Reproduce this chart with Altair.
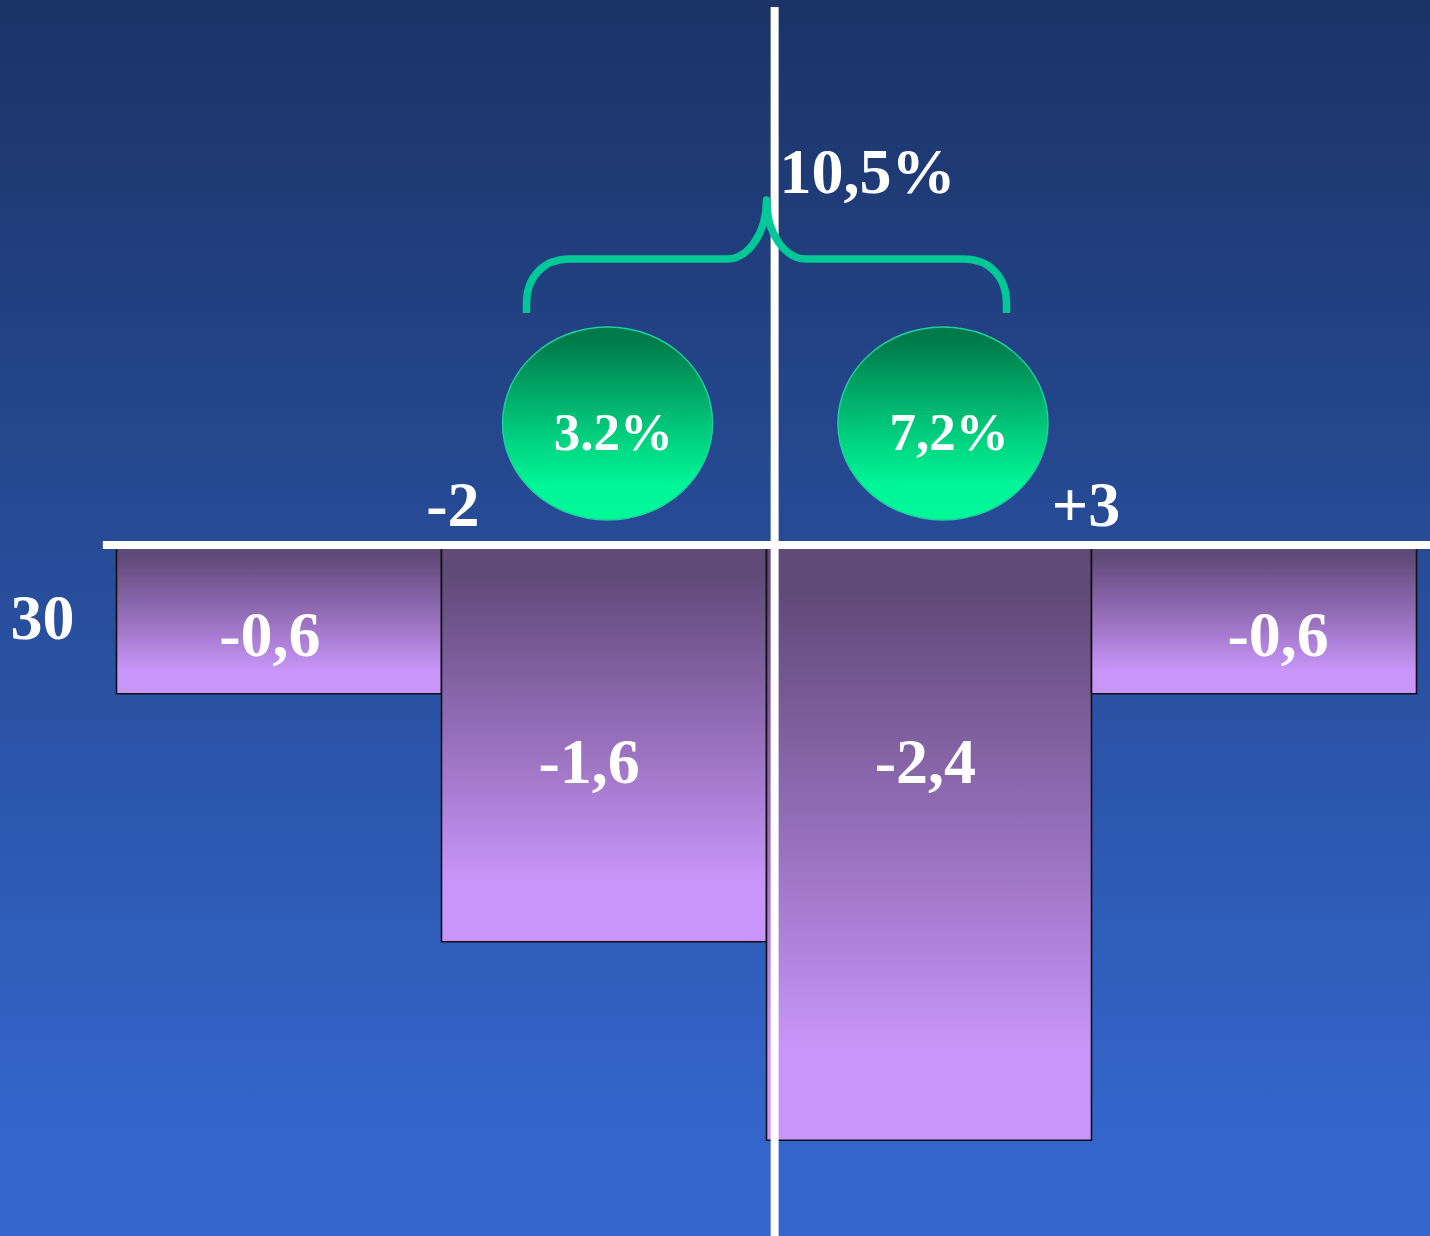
import altair as alt
import pandas as pd

# ---- data -------------------------------------------------------------
bar_values = [-0.6, -1.6, -2.4, -0.6]          # change per segment
bar_starts = [0, 1, 2, 3]                       # segment index
circle_labels = ["3.2%", "7,2%"]               # shares shown in the bubbles
total_label = "10,5%"                           # sum shown above the brace
edge_labels = ["-2", "+3"]                      # markers on the zero line
row_label = "30"

# ---- layout (data units of the shared x / y scales) --------------------
X_DOMAIN = [-116.5 / 325, (1430 - 116.5) / 325]
Y_DOMAIN = [-(1236 - 545) / 248, 545 / 248]
bar_label_x = [0.472, 1.454, 2.489, 3.574]
bar_label_y = [-0.448, -0.96, -0.96, -0.448]
circle_x = [1.511, 2.543]
circle_y = 0.49
circle_text_x = [1.529, 2.562]
circle_text_y = 0.383
edge_label_x = [1.035, 2.983]
edge_label_y = 0.075
row_label_pos = (-0.228, -0.379)
total_pos = (2.311, 1.419)
brace_pos = (2.0, 1.153)
axis_v_x = 2.025
axis_v_top = 2.169
axis_h_left = -0.042

W, H = 1430, 1236
FONT = "Liberation Serif"

xs = alt.Scale(domain=X_DOMAIN, nice=False, zero=False)
ys = alt.Scale(domain=Y_DOMAIN, nice=False, zero=False)


def vgrad(stops):
    return alt.Gradient(
        gradient="linear",
        stops=[alt.GradientStop(color=c, offset=o) for o, c in stops],
        x1=0, x2=0, y1=0, y2=1,
    )


one = pd.DataFrame({"k": [0]})

# background wash
background = alt.Chart(one).mark_rect(
    fill=vgrad([(0, "#1b3366"), (0.92, "#3366cc"), (1, "#3366cc")])
).encode(x=alt.value(0), x2=alt.value(W), y=alt.value(0), y2=alt.value(H))

# bars hanging below zero
bars_df = pd.DataFrame({
    "start": bar_starts,
    "end": [s + 1 for s in bar_starts],
    "value": bar_values,
})
bars = alt.Chart(bars_df).mark_bar(
    fill=vgrad([(0, "#5f4a78"), (0.08, "#604a79"), (0.52, "#9b72c0"),
                (0.85, "#c896fa"), (1, "#c896fa")]),
    stroke="#111111",
    strokeWidth=1.6,
).encode(
    x=alt.X("start:Q", scale=xs, axis=None),
    x2="end:Q",
    y=alt.Y("value:Q", scale=ys, axis=None),
    y2=alt.datum(0),
)

# bar value labels, written with a decimal comma
bl_df = pd.DataFrame({
    "x": bar_label_x,
    "y": bar_label_y,
    "t": [f"{v:.1f}".replace(".", ",") for v in bar_values],
})
bar_text = alt.Chart(bl_df).mark_text(
    font=FONT, fontWeight="bold", fontSize=64, color="white",
    align="center", baseline="alphabetic",
).encode(x=alt.X("x:Q", scale=xs), y=alt.Y("y:Q", scale=ys), text="t:N")

# axis cross
h_rule = alt.Chart(one).mark_rule(color="white", strokeWidth=8).encode(
    x=alt.X("a:Q", scale=xs), x2=alt.datum(X_DOMAIN[1]), y=alt.datum(0)
).transform_calculate(a=str(axis_h_left))
v_rule = alt.Chart(one).mark_rule(color="white", strokeWidth=8).encode(
    x=alt.datum(axis_v_x), y=alt.datum(axis_v_top), y2=alt.datum(Y_DOMAIN[0])
)

# curly brace over both bubbles
BRACE = ("M -1 0.225 L -1 0.185 C -1 0.075 -0.93 0 -0.82 0 L -0.167 0 "
         "C -0.075 0 0 -0.110 0 -0.246 C 0 -0.110 0.075 0 0.167 0 "
         "L 0.82 0 C 0.93 0 1 0.075 1 0.185 L 1 0.225")
brace = alt.Chart(one).mark_point(
    shape=BRACE, filled=False, stroke="#00c896", strokeWidth=7.5,
    strokeJoin="round", strokeCap="butt", size=480 ** 2, opacity=1,
).encode(x=alt.datum(brace_pos[0]), y=alt.datum(brace_pos[1]))

# green bubbles
ELLIPSE = "M -1 0 A 1 0.919 0 1 1 1 0 A 1 0.919 0 1 1 -1 0 Z"
circ_df = pd.DataFrame({"x": circle_x, "y": [circle_y] * 2})
circles = alt.Chart(circ_df).mark_point(
    shape=ELLIPSE, filled=True, size=210 ** 2, opacity=1,
    fill=vgrad([(0, "#007a48"), (0.08, "#007c4a"), (0.5, "#00c478"),
                (0.82, "#00f797"), (1, "#00f898")]),
    stroke="#1fcf9f", strokeWidth=1.5,
).encode(x=alt.X("x:Q", scale=xs), y=alt.Y("y:Q", scale=ys))

ct_df = pd.DataFrame({"x": circle_text_x, "y": [circle_text_y] * 2, "t": circle_labels})
circle_text = alt.Chart(ct_df).mark_text(
    font=FONT, fontWeight="bold", fontSize=53, color="white",
    align="center", baseline="alphabetic",
).encode(x=alt.X("x:Q", scale=xs), y=alt.Y("y:Q", scale=ys), text="t:N")

# remaining annotations
misc_df = pd.DataFrame({
    "x": edge_label_x + [row_label_pos[0], total_pos[0]],
    "y": [edge_label_y] * 2 + [row_label_pos[1], total_pos[1]],
    "t": edge_labels + [row_label, total_label],
})
misc_text = alt.Chart(misc_df).mark_text(
    font=FONT, fontWeight="bold", fontSize=64, color="white",
    align="center", baseline="alphabetic",
).encode(x=alt.X("x:Q", scale=xs), y=alt.Y("y:Q", scale=ys), text="t:N")

chart = alt.layer(
    background, bars, bar_text, h_rule, v_rule, brace, circles,
    circle_text, misc_text,
).properties(
    width=W, height=H, padding=0,
    autosize=alt.AutoSizeParams(type="none"),
    background="#28509e",
).configure_view(stroke=None)

chart.save("out.html", embed_options={"renderer": "svg", "actions": False})
